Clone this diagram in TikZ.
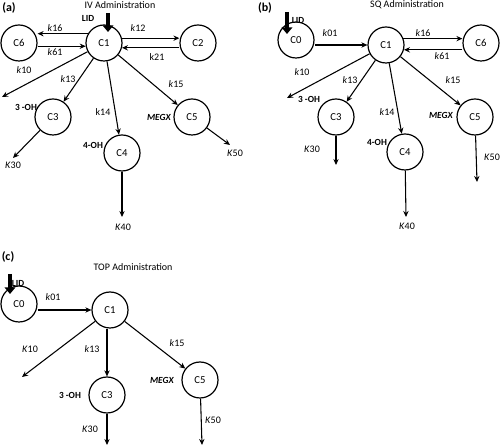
\documentclass[tikz,border=0pt]{standalone}
\usepackage{fontspec}
\setmainfont{Carlito}
\usetikzlibrary{arrows.meta}
\tikzset{
  comp/.style={draw, circle, minimum size=27pt, inner sep=0pt, line width=0.9pt, font=\fontsize{8}{9}\selectfont},
  flow/.style={-{Stealth[length=4.5pt,width=4pt]}, line width=0.8pt},
  dose/.style={-{Triangle[length=5pt,width=8pt]}, line width=3.5pt},
  lbl/.style={font=\fontsize{7.5}{9}\selectfont, inner sep=0pt},
  met/.style={font=\fontsize{7}{8}\selectfont\bfseries, inner sep=0pt},
  hdr/.style={font=\fontsize{9}{10}\selectfont\bfseries, inner sep=0pt},
}
\begin{document}
\begin{tikzpicture}[x=0.75pt,y=-0.75pt]
\useasboundingbox (0,0) rectangle (500,448);
% (a) IV
\node[hdr] (pa) at (9,8) {(a)};
\node[lbl] (ta) at (120,5) {IV Administration};
\foreach \name/\x/\y in {C6/19/43,C1/104/43,C2/198/43,C3/53/117,C4/122/153,C5/192/117}
\node[comp] (a\name) at (\x,\y) {\name};
\coordinate (aL) at (108,13); \coordinate (aLe) at (108,32);
\coordinate (a10) at (2,97); \coordinate (a30) at (13,158);
\coordinate (a40) at (122,217); \coordinate (a50) at (230,145);
\draw[dose] (aL) -- (aLe);
\draw[flow] (aC1.150) -- (aC1.150 -| aC6.east);
\draw[flow] (aC1.190 -| aC6.east) -- (aC1.190);
\draw[flow] (aC1.15) -- (aC1.15 -| aC2.west);
\draw[flow] (aC1.-15 -| aC2.west) -- (aC1.-15);
\foreach \t in {C3,C4,C5,10}
\draw[flow] (aC1) -- (a\t);
\draw[flow] (aC3) -- (a30);
\draw[flow] (aC4) -- (a40);
\draw[flow] (aC5) -- (a50);
\foreach \x/\y/\texto [count=\i] in {55/28/{\textit{k}16},55/52/{\textit{k}61},138/28/{\textit{k}12},157/57/{k21},
  24/70/{\textit{k}10},68/79/{\textit{k}13},103/112/{k14},176/84/{\textit{k}15},
  13/165/{\textit{K}30},123/227/{\textit{K}40},235/153/{\textit{K}50}}
\node[lbl] (ka\i) at (\x,\y) {\texto};
\node[met] (ma1) at (88,18) {LID};
\node[met] (ma2) at (26,107) {3 -OH};
\node[met] (ma3) at (93,145) {4-OH};
\node[met] (ma4) at (159,117) {\textit{MEGX}};
% (b) SQ
\node[hdr] (pb) at (265,8) {(b)};
\node[lbl] (tb) at (407,5) {SQ Administration};
\foreach \name/\x/\y in {C0/296/40,C1/386/45,C6/481/43,C3/336/117,C4/405/152,C5/475/117}
\node[comp] (b\name) at (\x,\y) {\name};
\coordinate (bL) at (287,12); \coordinate (bLe) at (287,34);
\coordinate (b10) at (287,98); \coordinate (b30) at (336,165);
\coordinate (b40) at (406,217); \coordinate (b50) at (477,182);
\draw[dose] (bL) -- (bLe);
\draw[flow] (bC0.east |- bC1) -- (bC1);
\draw[flow] (bC1.20) -- (bC1.20 -| bC6.west);
\draw[flow] (bC1.-15 -| bC6.west) -- (bC1.-15);
\foreach \t in {C3,C4,C5,10}
\draw[flow] (bC1) -- (b\t);
\draw[flow] (bC3) -- (b30);
\draw[flow] (bC4) -- (b40);
\draw[flow] (bC5) -- (b50);
\foreach \x/\y/\texto [count=\i] in {330/33/{\textit{k}01},423/33/{\textit{k}16},442/56/{\textit{k}61},
  302/72/{\textit{k}10},350/80/{\textit{k}13},387/112/{\textit{k}14},453/80/{\textit{k}15},
  312/149/{\textit{K}30},407/226/{\textit{K}40},492/157/{\textit{K}50}}
\node[lbl] (kb\i) at (\x,\y) {\texto};
\node[met] (mb1) at (298,20) {LID};
\node[met] (mb2) at (309,99) {3 -OH};
\node[met] (mb3) at (377,142) {4-OH};
\node[met] (mb4) at (441,115) {\textit{MEGX}};
% (c) TOP
\node[hdr] (pc) at (8,257) {(c)};
\node[lbl] (tc) at (133,267) {TOP Administration};
\foreach \name/\x/\y in {C0/19/304,C1/110/310,C3/107/395,C5/200/380}
\node[comp] (c\name) at (\x,\y) {\name};
\coordinate (cL) at (10,274); \coordinate (cLe) at (10,294);
\coordinate (c10) at (22,377); \coordinate (c30) at (107,445);
\coordinate (c50) at (202,445);
\draw[dose] (cL) -- (cLe);
\draw[flow] (cC0.east |- cC1) -- (cC1);
\draw[flow] (cC1.south -| cC3) -- (cC3);
\foreach \t in {C5,10}
\draw[flow] (cC1) -- (c\t);
\draw[flow] (cC3) -- (c30);
\draw[flow] (cC5) -- (c50);
\foreach \x/\y/\texto [count=\i] in {53/297/{\textit{k}01},30/349/{\textit{K}10},92/349/{\textit{k}13},
  177/343/{\textit{k}15},90/429/{\textit{K}30},213/420/{\textit{K}50}}
\node[lbl] (kc\i) at (\x,\y) {\texto};
\node[met] (mc1) at (18,283) {LID};
\node[met] (mc2) at (70,395) {3 -OH};
\node[met] (mc3) at (162,380) {\textit{MEGX}};
\end{tikzpicture}
\end{document}
